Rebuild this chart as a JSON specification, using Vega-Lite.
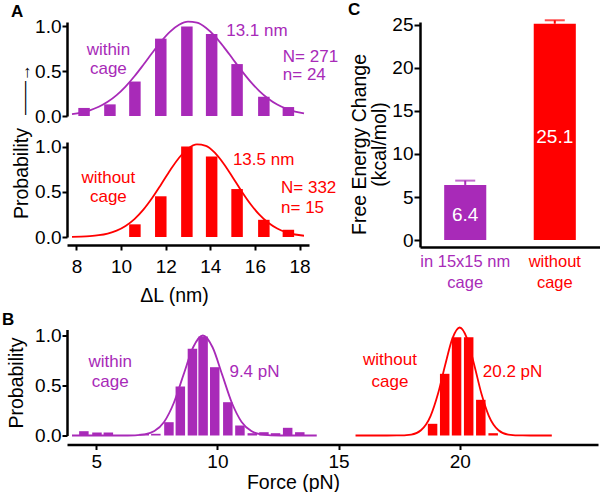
{
  "$schema": "https://vega.github.io/schema/vega-lite/v6.json",
  "padding": {"left": 2, "top": 1, "right": 0, "bottom": 0},
  "background": "white",
  "config": {
    "view": {"stroke": null},
    "font": "Liberation Sans",
    "text": {"font": "Liberation Sans"},
    "axis": {"grid": false, "domainColor": "#000000", "domainWidth": 2.5, "tickColor": "#000000", "tickWidth": 2, "tickSize": 5, "labelFont": "Liberation Sans", "labelFontSize": 19, "labelColor": "#000000", "labelPadding": 1, "titleFont": "Liberation Sans", "titleFontSize": 19.5, "titleFontWeight": "normal", "titleColor": "#000000"},
    "title": {"anchor": "start", "frame": "group", "font": "Liberation Sans", "fontSize": 17, "fontWeight": "bold", "baseline": "alphabetic", "color": "#000000"}
  },
  "datasets": {
    "aTopBars": [{"L":8.34,"p":0.09},{"L":9.5,"p":0.13},{"L":10.62,"p":0.385},{"L":11.78,"p":0.864},{"L":12.95,"p":1.0},{"L":14.06,"p":0.917},{"L":15.2,"p":0.58},{"L":16.4,"p":0.215},{"L":17.5,"p":0.1}],
    "aBotBars": [{"L":10.62,"p":0.14},{"L":11.78,"p":0.45},{"L":12.95,"p":1.0},{"L":14.06,"p":0.89},{"L":15.2,"p":0.53},{"L":16.4,"p":0.19},{"L":17.5,"p":0.08}],
    "aTopFit": [{"L":7.8,"p":0.0216},{"L":8.2,"p":0.0379},{"L":8.6,"p":0.0639},{"L":9.0,"p":0.1028},{"L":9.4,"p":0.1584},{"L":9.8,"p":0.2335},{"L":10.2,"p":0.3291},{"L":10.6,"p":0.4439},{"L":11.0,"p":0.5728},{"L":11.4,"p":0.707},{"L":11.8,"p":0.8348},{"L":12.2,"p":0.943},{"L":12.6,"p":1.0191},{"L":13.0,"p":1.0535},{"L":13.4,"p":1.0419},{"L":13.8,"p":0.9858},{"L":14.2,"p":0.8922},{"L":14.6,"p":0.7725},{"L":15.0,"p":0.6399},{"L":15.4,"p":0.507},{"L":15.8,"p":0.3844},{"L":16.2,"p":0.2787},{"L":16.6,"p":0.1934},{"L":17.0,"p":0.1283},{"L":17.4,"p":0.0815},{"L":17.8,"p":0.0495},{"L":18.2,"p":0.0287}],
    "aBotFit": [{"L":7.8,"p":0.0018},{"L":8.2,"p":0.0043},{"L":8.6,"p":0.0094},{"L":9.0,"p":0.0196},{"L":9.4,"p":0.0385},{"L":9.8,"p":0.0708},{"L":10.2,"p":0.1223},{"L":10.6,"p":0.1985},{"L":11.0,"p":0.3027},{"L":11.4,"p":0.4336},{"L":11.8,"p":0.5835},{"L":12.2,"p":0.7376},{"L":12.6,"p":0.8759},{"L":13.0,"p":0.977},{"L":13.4,"p":1.024},{"L":13.8,"p":1.0081},{"L":14.2,"p":0.9323},{"L":14.6,"p":0.81},{"L":15.0,"p":0.6612},{"L":15.4,"p":0.5069},{"L":15.8,"p":0.3652},{"L":16.2,"p":0.2471},{"L":16.6,"p":0.157},{"L":17.0,"p":0.0938},{"L":17.4,"p":0.0526},{"L":17.8,"p":0.0277},{"L":18.2,"p":0.0137}],
    "aTopText": [{"L":9.43,"p":0.681,"t":"within"},{"L":9.43,"p":0.469,"t":"cage"},{"L":16.09,"p":0.897,"t":"13.1 nm"}],
    "aTopStat": [{"L":17.25,"p":0.603,"t":"N= 271"},{"L":17.25,"p":0.405,"t":"n= 24"}],
    "aBotText": [{"L":9.43,"p":0.597,"t":"without"},{"L":9.43,"p":0.387,"t":"cage"},{"L":16.39,"p":0.796,"t":"13.5 nm"}],
    "aBotStat": [{"L":17.17,"p":0.486,"t":"N= 332"},{"L":17.17,"p":0.265,"t":"n= 15"}],
    "bBars": [{"grp":"cage","F":4.49,"p":0.043},{"grp":"cage","F":5.03,"p":0.03},{"grp":"cage","F":5.5,"p":0.03},{"grp":"cage","F":6.98,"p":0.017},{"grp":"cage","F":7.46,"p":0.017},{"grp":"cage","F":8.0,"p":0.133},{"grp":"cage","F":8.47,"p":0.49},{"grp":"cage","F":8.97,"p":0.867},{"grp":"cage","F":9.41,"p":0.99},{"grp":"cage","F":9.89,"p":0.683},{"grp":"cage","F":10.43,"p":0.333},{"grp":"cage","F":10.93,"p":0.1},{"grp":"cage","F":11.44,"p":0.023},{"grp":"cage","F":11.92,"p":0.033},{"grp":"cage","F":12.4,"p":0.023},{"grp":"cage","F":12.9,"p":0.077},{"grp":"cage","F":13.4,"p":0.033},{"grp":"nocage","F":18.88,"p":0.117},{"grp":"nocage","F":19.38,"p":0.617},{"grp":"nocage","F":19.87,"p":0.983},{"grp":"nocage","F":20.37,"p":0.983},{"grp":"nocage","F":20.87,"p":0.357},{"grp":"nocage","F":21.38,"p":0.023}],
    "bFit": [{"grp":"cage","F":4.0,"p":0.0},{"grp":"cage","F":5.0,"p":0.0},{"grp":"cage","F":6.0,"p":0.0},{"grp":"cage","F":6.6,"p":0.0022},{"grp":"cage","F":7.0,"p":0.0111},{"grp":"cage","F":7.4,"p":0.0439},{"grp":"cage","F":7.8,"p":0.1353},{"grp":"cage","F":8.2,"p":0.3247},{"grp":"cage","F":8.6,"p":0.6065},{"grp":"cage","F":9.0,"p":0.8825},{"grp":"cage","F":9.4,"p":1.0},{"grp":"cage","F":9.8,"p":0.8825},{"grp":"cage","F":10.2,"p":0.6065},{"grp":"cage","F":10.6,"p":0.3247},{"grp":"cage","F":11.0,"p":0.1353},{"grp":"cage","F":11.4,"p":0.0439},{"grp":"cage","F":11.8,"p":0.0111},{"grp":"cage","F":12.2,"p":0.0022},{"grp":"cage","F":13.0,"p":0.0},{"grp":"cage","F":14.1,"p":0.0},
             {"grp":"nocage","F":15.7,"p":0.0},{"grp":"nocage","F":17.0,"p":0.0},{"grp":"nocage","F":17.4,"p":0.0004},{"grp":"nocage","F":18.0,"p":0.0095},{"grp":"nocage","F":18.4,"p":0.0522},{"grp":"nocage","F":18.8,"p":0.1965},{"grp":"nocage","F":19.1,"p":0.4141},{"grp":"nocage","F":19.4,"p":0.7053},{"grp":"nocage","F":19.7,"p":0.9709},{"grp":"nocage","F":20.0,"p":1.08},{"grp":"nocage","F":20.3,"p":0.9709},{"grp":"nocage","F":20.6,"p":0.7053},{"grp":"nocage","F":20.9,"p":0.4141},{"grp":"nocage","F":21.2,"p":0.1965},{"grp":"nocage","F":21.6,"p":0.0522},{"grp":"nocage","F":22.0,"p":0.0095},{"grp":"nocage","F":22.6,"p":0.0004},{"grp":"nocage","F":23.0,"p":0.0},{"grp":"nocage","F":23.8,"p":0.0}],
    "bText": [{"grp":"cage","F":5.58,"p":0.69,"t":"within"},{"grp":"cage","F":5.58,"p":0.49,"t":"cage"},{"grp":"cage","F":11.53,"p":0.59,"t":"9.4 pN"},{"grp":"nocage","F":17.12,"p":0.703,"t":"without"},{"grp":"nocage","F":17.12,"p":0.49,"t":"cage"},{"grp":"nocage","F":22.18,"p":0.59,"t":"20.2 pN"}],
    "cBars": [{"cond":"in 15x15 nm|cage","grp":"cage","value":6.4,"hi":6.9,"ly":2.24,"label":"6.4"},{"cond":"without|cage","grp":"nocage","value":25.1,"hi":25.5,"ly":11.25,"label":"25.1"}]
  },
  "spacing": 5.5,
  "vconcat": [
    {
      "spacing": 9,
      "hconcat": [
        {
          "bounds": "flush",
          "spacing": 26,
          "vconcat": [
            {
              "width": 242, "height": 94,
              "title": {"text": "A", "dx": -56, "offset": -3.5},
              "encoding": {
                "x": {"field": "L", "type": "quantitative", "scale": {"domain": [7.8, 18.2], "nice": false, "zero": false}, "axis": null},
                "y": {"field": "p", "type": "quantitative", "scale": {"domain": [0, 1.05], "nice": false}, "axis": {"values": [0, 0.5, 1], "format": ".1f", "title": "——→", "titleFontSize": 17, "titleX": -43, "titleY": 67, "titleBaseline": "middle", "titleAlign": "center"}}
              },
              "layer": [
                {"data": {"name": "aTopBars"}, "mark": {"type": "bar", "size": 11.5, "color": "#A82AB8"}},
                {"data": {"name": "aTopFit"}, "mark": {"type": "line", "color": "#A82AB8", "strokeWidth": 1.8, "interpolate": "monotone"}},
                {"data": {"name": "aTopText"}, "mark": {"type": "text", "color": "#A82AB8", "fontSize": 17, "align": "center", "baseline": "alphabetic"}, "encoding": {"text": {"field": "t"}}},
                {"data": {"name": "aTopStat"}, "mark": {"type": "text", "color": "#A82AB8", "fontSize": 17, "align": "left", "baseline": "alphabetic"}, "encoding": {"text": {"field": "t"}}}
              ]
            },
            {
              "width": 242, "height": 95,
              "encoding": {
                "x": {"field": "L", "type": "quantitative", "scale": {"domain": [7.8, 18.2], "nice": false, "zero": false}, "axis": {"values": [8, 10, 12, 14, 16, 18], "title": "ΔL (nm)", "offset": 8, "labelPadding": 7, "titlePadding": 10, "titleX": 107}},
                "y": {"field": "p", "type": "quantitative", "scale": {"domain": [0, 1.05], "nice": false}, "axis": {"values": [0, 0.5, 1], "format": ".1f", "title": "Probability", "titleX": -46, "titleY": 31, "titleBaseline": "middle", "titleAlign": "center"}}
              },
              "layer": [
                {"data": {"name": "aBotBars"}, "mark": {"type": "bar", "size": 11.5, "color": "#FF0000"}},
                {"data": {"name": "aBotFit"}, "mark": {"type": "line", "color": "#FF0000", "strokeWidth": 1.8, "interpolate": "monotone"}},
                {"data": {"name": "aBotText"}, "mark": {"type": "text", "color": "#FF0000", "fontSize": 17, "align": "center", "baseline": "alphabetic"}, "encoding": {"text": {"field": "t"}}},
                {"data": {"name": "aBotStat"}, "mark": {"type": "text", "color": "#FF0000", "fontSize": 17, "align": "left", "baseline": "alphabetic"}, "encoding": {"text": {"field": "t"}}}
              ]
            }
          ]
        },
        {
          "width": 180, "height": 225,
          "title": {"text": "C", "dx": -72, "offset": -3.5},
          "data": {"name": "cBars"},
          "encoding": {
            "x": {"field": "cond", "type": "nominal", "sort": null, "scale": {"paddingInner": 0.53, "paddingOuter": 0.27}, "axis": {"ticks": false, "labelAngle": 0, "labelExpr": "split(datum.label, '|')", "labelFontSize": 16.5, "labelLineHeight": 21, "labelPadding": 6, "labelColor": {"condition": {"test": "indexof(datum.label, 'without') >= 0", "value": "#FF0000"}, "value": "#A82AB8"}, "title": null}},
            "color": {"field": "grp", "type": "nominal", "scale": {"domain": ["cage", "nocage"], "range": ["#A82AB8", "#FF0000"]}, "legend": null}
          },
          "layer": [
            {"mark": {"type": "rule", "strokeWidth": 2}, "encoding": {"y": {"field": "value", "type": "quantitative"}, "y2": {"field": "hi"}}},
            {"mark": {"type": "tick", "thickness": 2, "size": 20, "orient": "horizontal"}, "encoding": {"y": {"field": "hi", "type": "quantitative"}}},
            {"mark": {"type": "bar"}, "encoding": {"y": {"field": "value", "type": "quantitative", "scale": {"domain": [-0.8, 25.3], "nice": false, "zero": false}, "axis": {"values": [0, 5, 10, 15, 20, 25], "tickSize": 6, "title": ["Free Energy Change", "(kcal/mol)"], "titlePadding": 2, "titleLineHeight": 20, "titleY": 122}}, "y2": {"datum": 0}}},
            {"mark": {"type": "text", "fontSize": 19, "baseline": "alphabetic", "align": "center"}, "encoding": {"y": {"field": "ly", "type": "quantitative"}, "text": {"field": "label"}, "color": {"value": "#FFFFFF"}}}
          ]
        }
      ]
    },
    {
      "width": 531, "height": 106,
      "title": {"text": "B", "dx": -65, "offset": -5},
      "encoding": {
        "x": {"field": "F", "type": "quantitative", "scale": {"domain": [4, 25.5], "nice": false, "zero": false}, "axis": {"values": [5, 10, 15, 20], "title": "Force (pN)", "offset": 9, "labelPadding": 3, "titlePadding": 2, "titleX": 226}},
        "y": {"field": "p", "type": "quantitative", "scale": {"domain": [0, 1.06], "nice": false}, "axis": {"values": [0, 0.5, 1], "format": ".1f", "title": "Probability", "titlePadding": 8}},
        "color": {"field": "grp", "type": "nominal", "scale": {"domain": ["cage", "nocage"], "range": ["#A82AB8", "#FF0000"]}, "legend": null}
      },
      "layer": [
        {"data": {"name": "bBars"}, "mark": {"type": "bar", "size": 9.5}},
        {"data": {"name": "bFit"}, "mark": {"type": "line", "strokeWidth": 1.8, "interpolate": "monotone"}},
        {"data": {"name": "bText"}, "mark": {"type": "text", "fontSize": 17, "align": "center", "baseline": "alphabetic"}, "encoding": {"text": {"field": "t"}}}
      ]
    }
  ]
}
